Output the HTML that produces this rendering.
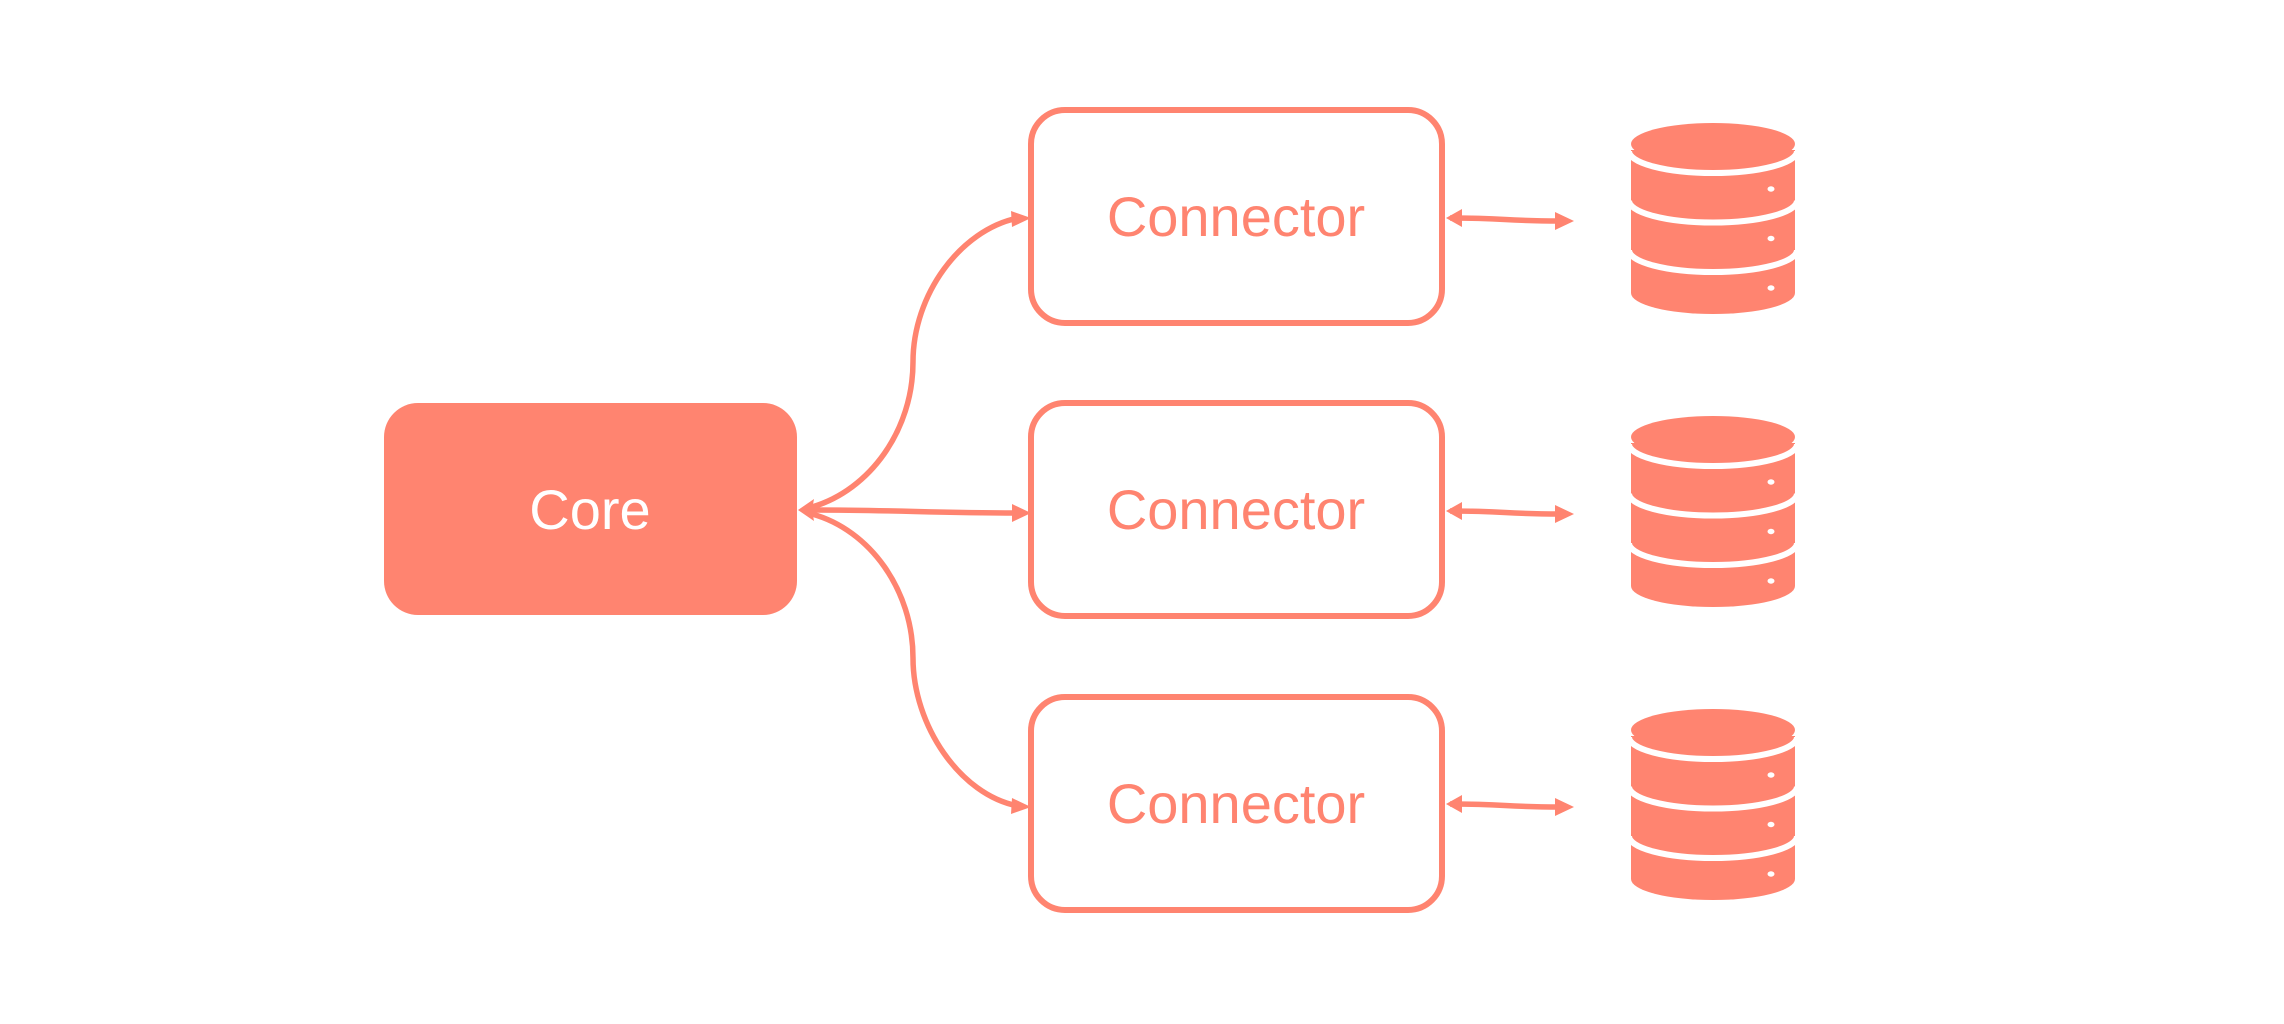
<!DOCTYPE html>
<html><head><meta charset="utf-8"><style>
html,body{margin:0;padding:0;background:#fff;}
svg{display:block;}
text{font-family:"Liberation Sans",sans-serif;font-size:56px;}
</style></head><body>
<svg width="2284" height="1024" viewBox="0 0 2284 1024" xmlns="http://www.w3.org/2000/svg">
<defs>
<g id="db">
<path d="M1631 150 V293 A82 21 0 0 0 1795 293 V150 Z" fill="#FF8470"/>
<path d="M1629 151 A84 22 0 0 0 1797 151" fill="none" stroke="#fff" stroke-width="6"/>
<path d="M1629 200.5 A84 22 0 0 0 1797 200.5" fill="none" stroke="#fff" stroke-width="6"/>
<path d="M1629 250 A84 22 0 0 0 1797 250" fill="none" stroke="#fff" stroke-width="6"/>
<ellipse cx="1713" cy="144" rx="82" ry="21" fill="#FF8470"/>
<ellipse cx="1771" cy="189" rx="3.5" ry="2.7" fill="#fff"/>
<ellipse cx="1771" cy="238.5" rx="3.5" ry="2.7" fill="#fff"/>
<ellipse cx="1771" cy="288" rx="3.5" ry="2.7" fill="#fff"/>
<path d="M1450 218 C1510 218 1500 221 1560 221" fill="none" stroke="#FF8470" stroke-width="5.5"/>
<path d="M1446 218 L1462 209 L1462 227 Z" fill="#FF8470"/>
<path d="M1574 221 L1555 212 L1555 230 Z" fill="#FF8470"/>
</g>
</defs>
<rect x="384" y="403" width="413" height="212" rx="34" fill="#FF8470"/>
<text x="590" y="529" fill="#fff" text-anchor="middle">Core</text>

<g fill="#fff" stroke="#FF8470" stroke-width="6">
<rect x="1031" y="110" width="411" height="213" rx="34"/>
<rect x="1031" y="403" width="411" height="213" rx="34"/>
<rect x="1031" y="697" width="411" height="213" rx="34"/>
</g>
<g fill="#FF8470" text-anchor="middle">
<text x="1236" y="236">Connector</text>
<text x="1236" y="529">Connector</text>
<text x="1236" y="823">Connector</text>
</g>

<use href="#db"/>
<use href="#db" transform="translate(0,293)"/>
<use href="#db" transform="translate(0,586)"/>

<g fill="none" stroke="#FF8470" stroke-width="5.5">
<path d="M812 507 C870 490 913 430 913 362 C913 295 960 230 1018 218"/>
<path d="M812 510 C900 510 930 513 1018 513"/>
<path d="M812 514 C870 530 913 590 913 658 C913 725 960 795 1018 806"/>
</g>
<g fill="#FF8470">
<path d="M798 510 L814 499 L812 510 L814 521 Z"/>
<path d="M1031 218 L1011 211 L1012 227 Z"/>
<path d="M1031 513 L1012 504 L1012 522 Z"/>
<path d="M1031 807 L1012 798 L1011 814 Z"/>
</g>
</svg>
</body></html>
